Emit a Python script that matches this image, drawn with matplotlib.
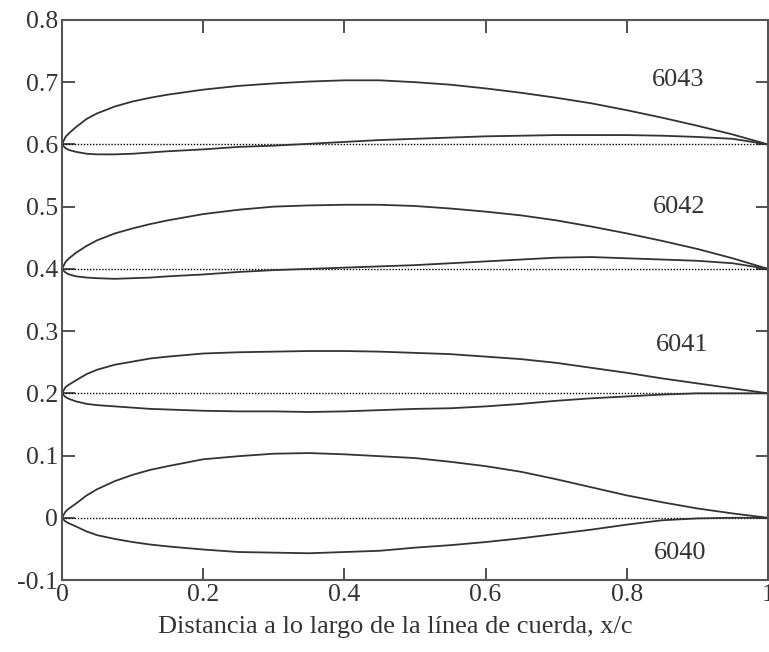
import matplotlib
matplotlib.use("Agg")
import matplotlib.pyplot as plt

plt.rcParams['font.family'] = ['Liberation Serif', 'DejaVu Serif']

# estaciones a lo largo de la cuerda
x = [0, 0.005, 0.01, 0.02, 0.035, 0.05, 0.075, 0.1, 0.125, 0.15, 0.2, 0.25, 0.3, 0.35,
     0.4, 0.45, 0.5, 0.55, 0.6, 0.65, 0.7, 0.75, 0.8, 0.85, 0.9, 0.95, 1.0]

# perfiles (ya desplazados verticalmente como en la figura)
sup_6040 = [0, 0.010, 0.015, 0.023, 0.036, 0.046, 0.059, 0.069, 0.077, 0.083, 0.094, 0.099, 0.103, 0.104,
            0.102, 0.099, 0.096, 0.090, 0.083, 0.074, 0.062, 0.049, 0.036, 0.025, 0.015, 0.007, 0]
inf_6040 = [0, -0.006, -0.009, -0.014, -0.022, -0.028, -0.034, -0.039, -0.043, -0.046, -0.051, -0.055, -0.056, -0.057,
            -0.055, -0.053, -0.048, -0.044, -0.039, -0.033, -0.026, -0.019, -0.011, -0.004, -0.001, 0, 0]

sup_6041 = [0.2, 0.210, 0.214, 0.221, 0.231, 0.238, 0.246, 0.251, 0.256, 0.259, 0.264, 0.266, 0.267, 0.268,
            0.268, 0.267, 0.265, 0.263, 0.259, 0.255, 0.249, 0.241, 0.233, 0.224, 0.216, 0.208, 0.2]
inf_6041 = [0.2, 0.194, 0.191, 0.187, 0.183, 0.181, 0.179, 0.177, 0.175, 0.174, 0.172, 0.171, 0.171, 0.170,
            0.171, 0.173, 0.175, 0.176, 0.179, 0.183, 0.188, 0.192, 0.195, 0.198, 0.2, 0.2, 0.2]

sup_6042 = [0.4, 0.411, 0.417, 0.426, 0.437, 0.446, 0.457, 0.465, 0.472, 0.478, 0.488, 0.495, 0.500, 0.502,
            0.503, 0.503, 0.501, 0.497, 0.492, 0.486, 0.478, 0.468, 0.457, 0.445, 0.432, 0.417, 0.4]
inf_6042 = [0.4, 0.394, 0.391, 0.388, 0.386, 0.385, 0.384, 0.385, 0.386, 0.388, 0.391, 0.395, 0.398, 0.400,
            0.402, 0.404, 0.406, 0.409, 0.412, 0.415, 0.418, 0.419, 0.417, 0.415, 0.413, 0.409, 0.4]

sup_6043 = [0.6, 0.612, 0.618, 0.628, 0.641, 0.650, 0.661, 0.669, 0.675, 0.680, 0.688, 0.694, 0.698, 0.701,
            0.703, 0.703, 0.700, 0.696, 0.690, 0.683, 0.675, 0.666, 0.655, 0.643, 0.630, 0.616, 0.6]
inf_6043 = [0.6, 0.594, 0.591, 0.588, 0.585, 0.584, 0.584, 0.585, 0.587, 0.589, 0.592, 0.596, 0.598, 0.601,
            0.604, 0.607, 0.609, 0.611, 0.613, 0.614, 0.615, 0.615, 0.615, 0.614, 0.612, 0.609, 0.6]

nombres = ['6040', '6041', '6042', '6043']
lineas_cuerda = [0, 0.2, 0.4, 0.6]
pos_etiquetas = [(0.875, -0.056), (0.878, 0.277), (0.875, 0.499), (0.873, 0.703)]

xticks = [0, 0.2, 0.4, 0.6, 0.8, 1.0]
xtick_labels = ['0', '0.2', '0.4', '0.6', '0.8', '1']
yticks = [-0.1, 0, 0.1, 0.2, 0.3, 0.4, 0.5, 0.6, 0.7, 0.8]
ytick_labels = ['-0.1', '0', '0.1', '0.2', '0.3', '0.4', '0.5', '0.6', '0.7', '0.8']

COLOR = '#333333'

fig = plt.figure(figsize=(7.69, 6.52), dpi=100)
ax = fig.add_axes([0.0806, 0.1104, 0.918, 0.859])

# lineas de cuerda punteadas
for yc in lineas_cuerda:
    ax.plot([0, 1], [yc, yc], color='black', lw=1.0, linestyle=(0, (1, 1.2)))

for sup, inf in [(sup_6040, inf_6040), (sup_6041, inf_6041),
                 (sup_6042, inf_6042), (sup_6043, inf_6043)]:
    ax.plot(x, sup, color=COLOR, lw=1.3)
    ax.plot(x, inf, color=COLOR, lw=1.3)

for nombre, (px, py) in zip(nombres, pos_etiquetas):
    ax.text(px, py, nombre, fontsize=19, color=COLOR, ha='center', va='center')

ax.set_xlim(0, 1)
ax.set_ylim(-0.1, 0.8)
ax.set_xticks(xticks)
ax.set_xticklabels(xtick_labels)
ax.set_yticks(yticks)
ax.set_yticklabels(ytick_labels)
ax.tick_params(direction='in', top=True, right=True, length=9, width=1.2,
               labelsize=18.5, colors=COLOR)
ax.tick_params(axis='x', pad=3)
ax.tick_params(axis='y', pad=3)
for s in ax.spines.values():
    s.set_color('#555555')
    s.set_linewidth(1.5)

ax.set_xlabel('Distancia a lo largo de la línea de cuerda, x/c', fontsize=19, color=COLOR)
ax.xaxis.set_label_coords(0.472, -0.065)

fig.savefig('out.png', dpi=100)
